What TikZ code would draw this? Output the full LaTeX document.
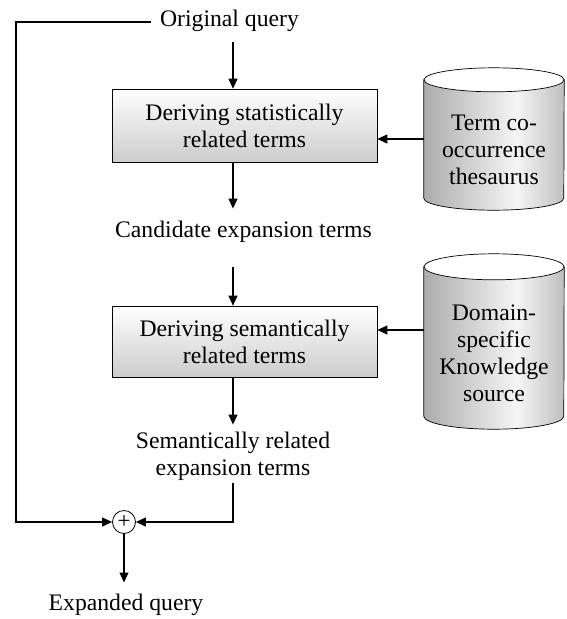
\documentclass[tikz,border=0pt]{standalone}
\usepackage{fontspec}
\setmainfont{Liberation Serif}
\usetikzlibrary{arrows.meta,calc}
\pgfdeclarehorizontalshading{cylshade}{100bp}{color(0bp)=(gray!65); color(25bp)=(gray!65); color(58bp)=(white!96!black); color(75bp)=(gray!50); color(100bp)=(gray!50)}
\tikzset{
  txt/.style={inner sep=0pt, align=center, font=\fontsize{23.7}{27}\selectfont},
  procbox/.style={draw, line width=0.7pt, top color=white, bottom color=gray!40,
    minimum width=265pt, minimum height=73pt, inner sep=0pt, align=center,
    font=\fontsize{23.7}{27}\selectfont},
  cylbox/.style={minimum width=140pt, inner sep=0pt},
  arr/.style={line width=1.1pt, -{Triangle[length=10pt,width=9pt]}},
  sumnode/.style={circle, draw, line width=0.8pt, fill=white, minimum size=23pt,
    inner sep=0pt, font=\fontsize{23}{23}\selectfont},
}
\begin{document}
\begin{tikzpicture}[x=1pt,y=-1pt]
\useasboundingbox (0,0) rectangle (566,619);
\coordinate (ax) at (233,0);
\coordinate (lc) at (16,0);
\node[txt] (oq) at (229.5,20.4) {Original query};
\node[procbox] (b1) at (244.5,125.5) {Deriving statistically\\related terms};
\node[txt] (cand) at (243.5,231.5) {Candidate expansion terms};
\node[procbox, minimum height=71pt] (b2) at (244.5,341.5) {Deriving semantically\\related terms};
\node[txt] (sem) at (233,456) {Semantically related\\expansion terms};
\node[sumnode] (pl) at (124,522) {+};
\node[txt] (eq) at (126,604.5) {Expanded query};
% cylinders
\node[cylbox, minimum height=142pt] (c1) at (494,139) {};
\node[cylbox, minimum height=175pt] (c2) at (494,341.5) {};
\foreach \cy/\ry in {c1/12,c2/13} {
  \shadedraw[shading=cylshade, line width=0.7pt]
    ([yshift=-\ry pt]\cy.north west) -- ([yshift=\ry pt]\cy.south west)
    arc[start angle=180, end angle=360, x radius=70pt, y radius=\ry pt]
    -- ([yshift=-\ry pt]\cy.north east) -- cycle;
  \filldraw[fill=white, line width=0.7pt] ([yshift=-\ry pt]\cy.north) ellipse [x radius=70pt, y radius=\ry pt];
}
\node[txt] (c1t) at (494,150) {Term co-\\occurrence\\thesaurus};
\node[txt] (c2t) at (494,353.5) {Domain-\\specific\\Knowledge\\source};
% connectors
\draw[arr, shorten <=11pt] (oq.south -| ax) -- (b1.north -| ax);
\draw[arr, shorten >=12pt] (b1.south -| ax) -- (cand.north -| ax);
\draw[arr, shorten <=24.5pt] (cand.south -| ax) -- (b2.north -| ax);
\draw[arr, shorten >=7pt] (b2.south -| ax) -- (sem.north -| ax);
\draw[arr, shorten <=3pt] (sem.south -| ax) |- (pl.east);
\coordinate (oqw) at ([yshift=-1.6pt]oq.west);
\draw[arr, shorten <=9pt] (oqw) -- (oqw -| lc) |- (pl.west);
\draw[arr, shorten >=11pt] (pl.south) -- (pl.south |- eq.north);
\draw[arr] (c1.west) -- (c1.west -| b1.east);
\coordinate (k2) at ([yshift=11.5pt]c2.west);
\draw[arr] (k2) -- (k2 -| b2.east);
\end{tikzpicture}
\end{document}
